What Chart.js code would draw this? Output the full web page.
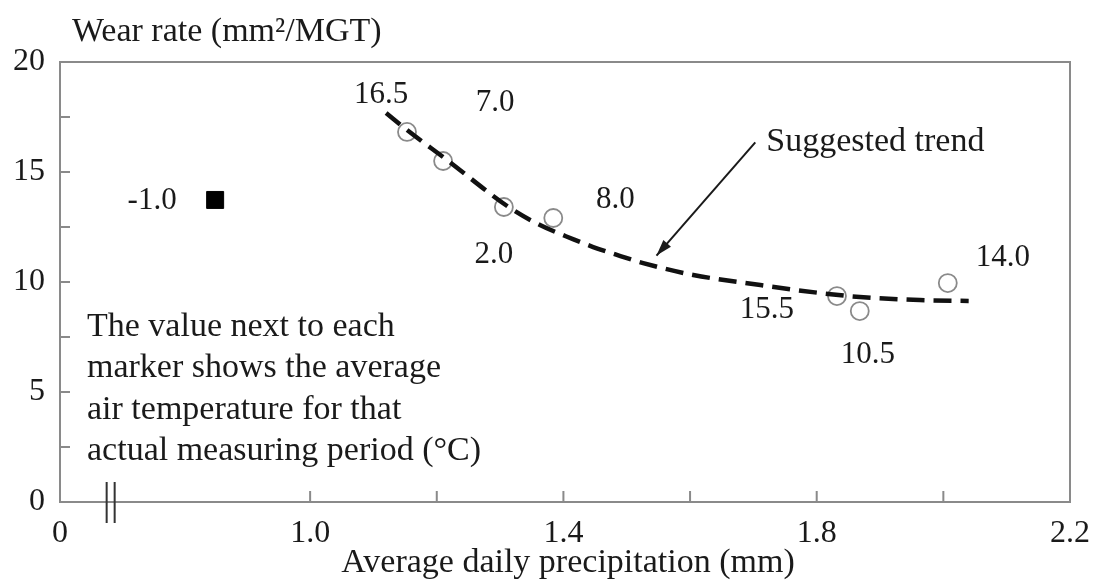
<!DOCTYPE html>
<html>
<head>
<meta charset="utf-8">
<script src="https://cdn.jsdelivr.net/npm/chart.js@4"></script>
<style>
  html, body { margin: 0; padding: 0; background: #fff; }
  #wrap { width: 1093px; height: 581px; }
</style>
</head>
<body>
<div id="wrap"><canvas id="wearChart" width="1093" height="581"></canvas></div>
<script>
// measured points (average daily precipitation mm, wear rate mm2/MGT)
const precip = [1.153, 1.210, 1.306, 1.384, 1.832, 1.868, 2.007];
const wear = [16.82, 15.50, 13.41, 12.91, 9.36, 8.68, 9.95];
const airTemp = ["16.5", "7.0", "2.0", "8.0", "15.5", "10.5", "14.0"];

// the single point on the left of the axis break
const coldPrecip = [0.85];
const coldWear = [13.73];
const coldTemp = ["-1.0"];

// suggested trend
const trendX = [1.120, 1.153, 1.216, 1.316, 1.363, 1.415, 1.447, 1.490, 1.526, 1.605, 1.711, 1.805, 1.868, 1.963, 2.040];
const trendY = [17.68, 16.91, 15.55, 13.36, 12.59, 11.95, 11.59, 11.18, 10.86, 10.32, 9.86, 9.50, 9.32, 9.18, 9.14];

const xTickLabels = { 6: "0", 10: "1.0", 14: "1.4", 18: "1.8", 22: "2.2" };
const yTickLabels = [0, 5, 10, 15, 20];

const noteLines = [
    "The value next to each",
    "marker shows the average",
    "air temperature for that",
    "actual measuring period (\u00B0C)"
];

const SERIF = "'Liberation Serif', 'DejaVu Serif', serif";
const INK = "#1a1a1a";
const FRAME = "#8a8a8a";

// pixel offsets of each temperature label from its marker
const labelOffsets = [[-26, -37], [52, -58], [-10, 48], [62, -18], [-70, 14], [8, 44], [55, -25]];

const extras = {
    id: "extras",
    afterDatasetsDraw(chart) {
        const ctx = chart.ctx;
        const a = chart.chartArea;
        const xs = chart.scales.x;
        const ys = chart.scales.y;

        ctx.save();
        // top and right side of the frame
        ctx.strokeStyle = FRAME;
        ctx.lineWidth = 2;
        ctx.beginPath();
        ctx.moveTo(a.left, a.top);
        ctx.lineTo(a.right, a.top);
        ctx.lineTo(a.right, a.bottom);
        ctx.stroke();

        // tick marks pointing into the plot
        ctx.beginPath();
        xs.ticks.forEach(t => {
            const px = xs.getPixelForValue(t.value);
            if (px <= a.left + 2 || px >= a.right - 2) return;
            ctx.moveTo(px, a.bottom);
            ctx.lineTo(px, a.bottom - 11);
        });
        ys.ticks.forEach(t => {
            const py = ys.getPixelForValue(t.value);
            if (py <= a.top + 2 || py >= a.bottom - 2) return;
            ctx.moveTo(a.left, py);
            ctx.lineTo(a.left + 10, py);
        });
        ctx.stroke();

        // axis break
        const bx = xs.getPixelForValue(0.685);
        ctx.strokeStyle = "#333";
        ctx.lineWidth = 2;
        ctx.beginPath();
        ctx.moveTo(bx - 4, a.bottom - 20);
        ctx.lineTo(bx - 4, a.bottom + 21);
        ctx.moveTo(bx + 4, a.bottom - 20);
        ctx.lineTo(bx + 4, a.bottom + 21);
        ctx.stroke();

        ctx.fillStyle = INK;
        ctx.textBaseline = "middle";
        ctx.font = "31px " + SERIF;

        // temperature labels
        ctx.textAlign = "center";
        precip.forEach((p, i) => {
            const px = xs.getPixelForValue(p) + labelOffsets[i][0];
            const py = ys.getPixelForValue(wear[i]) + labelOffsets[i][1];
            ctx.fillText(airTemp[i], px, py);
        });
        ctx.fillText(coldTemp[0], xs.getPixelForValue(coldPrecip[0]) - 63, ys.getPixelForValue(coldWear[0]) + 1);

        // trend arrow and its label
        const tx = xs.getPixelForValue(1.703), ty = ys.getPixelForValue(16.35);
        const hx = xs.getPixelForValue(1.547), hy = ys.getPixelForValue(11.2);
        ctx.strokeStyle = INK;
        ctx.lineWidth = 2;
        ctx.beginPath();
        ctx.moveTo(tx, ty);
        ctx.lineTo(hx, hy);
        ctx.stroke();
        const ang = Math.atan2(hy - ty, hx - tx);
        ctx.beginPath();
        ctx.moveTo(hx, hy);
        ctx.lineTo(hx - 17 * Math.cos(ang - 0.3), hy - 17 * Math.sin(ang - 0.3));
        ctx.lineTo(hx - 17 * Math.cos(ang + 0.3), hy - 17 * Math.sin(ang + 0.3));
        ctx.closePath();
        ctx.fill();

        ctx.font = "34px " + SERIF;
        ctx.textAlign = "left";
        ctx.fillText("Suggested trend", tx + 11, ty);

        // note
        noteLines.forEach((line, i) => {
            ctx.fillText(line, 87, 327 + i * 41.3);
        });

        // axis titles
        ctx.fillText("Wear rate (mm\u00B2/MGT)", 72, 32);
        ctx.textAlign = "center";
        ctx.fillText("Average daily precipitation (mm)", 568, 563);
        ctx.restore();
    }
};

const ctx = document.getElementById("wearChart").getContext("2d");
new Chart(ctx, {
    type: "scatter",
    data: {
        datasets: [
            {
                label: "Suggested trend",
                data: trendX.map((x, i) => ({ x: x, y: trendY[i] })),
                showLine: true,
                borderColor: "#111",
                borderWidth: 4.5,
                borderDash: [18, 9],
                borderCapStyle: "butt",
                cubicInterpolationMode: "monotone",
                pointRadius: 0
            },
            {
                label: "Measured",
                data: precip.map((x, i) => ({ x: x, y: wear[i] })),
                pointStyle: "circle",
                pointRadius: 9,
                backgroundColor: "rgba(255,255,255,0)",
                borderColor: "#8a8a8a",
                borderWidth: 1.8
            },
            {
                label: "Cold period",
                data: coldPrecip.map((x, i) => ({ x: x, y: coldWear[i] })),
                pointStyle: "rect",
                pointRadius: 12,
                backgroundColor: "#000",
                borderColor: "#000",
                borderWidth: 1
            }
        ]
    },
    options: {
        responsive: false,
        animation: false,
        events: [],
        layout: { padding: { top: 62, right: 23, left: 0, bottom: 0 } },
        plugins: {
            legend: { display: false },
            tooltip: { enabled: false }
        },
        scales: {
            x: {
                type: "linear",
                min: 0.605,
                max: 2.2,
                afterFit: s => {
                    s.height = 79;
                    s.paddingLeft = 0;
                    s.paddingRight = 0;
                },
                grid: { display: false, drawTicks: false },
                border: { display: true, color: FRAME, width: 2 },
                ticks: {
                    stepSize: 0.2,
                    autoSkip: false,
                    maxRotation: 0,
                    padding: 12,
                    color: INK,
                    font: { family: SERIF, size: 32 },
                    callback: v => xTickLabels[Math.round(v * 10)] || ""
                }
            },
            y: {
                min: 0,
                max: 20,
                afterFit: s => {
                    s.width = 60;
                    s.paddingTop = 0;
                    s.paddingBottom = 0;
                },
                grid: { display: false, drawTicks: false },
                border: { display: true, color: FRAME, width: 2 },
                ticks: {
                    stepSize: 2.5,
                    padding: 15,
                    color: INK,
                    font: { family: SERIF, size: 32 },
                    callback: v => yTickLabels.includes(v) ? String(v) : ""
                }
            }
        }
    },
    plugins: [extras]
});
</script>
</body>
</html>
